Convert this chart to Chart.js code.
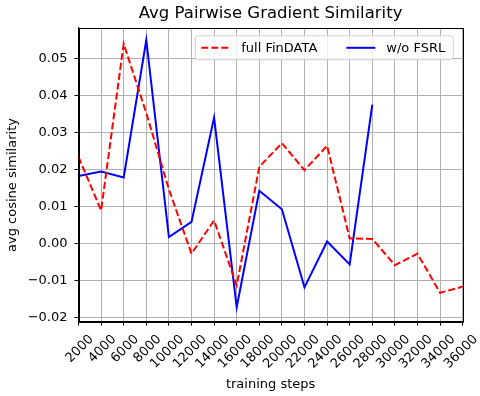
<!DOCTYPE html>
<html>
<head>
<meta charset="utf-8">
<script src="https://cdn.jsdelivr.net/npm/chart.js@4.4.1/dist/chart.umd.min.js"></script>
<style>
  html, body { margin: 0; padding: 0; background: #fff; }
  #wrap { width: 480px; height: 396px; }
</style>
</head>
<body>
<div id="wrap"><canvas id="chart" width="480" height="396"></canvas></div>
<script>
// training steps (x) and the two series
const steps = [2000, 4000, 6000, 8000, 10000, 12000, 14000, 16000, 18000,
  20000, 22000, 24000, 26000, 28000, 30000, 32000, 34000, 36000];
const fullFinData = [0.0235, 0.0090, 0.0541, 0.0353, 0.0147, -0.0027, 0.0063, -0.0113, 0.0208,
  0.0272, 0.0199, 0.0265, 0.0014, 0.0013, -0.0058, -0.0027, -0.0133, -0.0116];
const woFsrl = [0.0183, 0.0195, 0.0179, 0.0551, 0.0018, 0.0059, 0.0341, -0.0172, 0.0143,
  0.0093, -0.0118, 0.0006, -0.0056, 0.0376];
const yTicks = [-0.02, -0.01, 0.00, 0.01, 0.02, 0.03, 0.04, 0.05];
const yTitle = 'avg cosine similarity';

const FONT = "'DejaVu Sans', sans-serif";

const toPoints = (vals) => vals.map((v, i) => ({ x: steps[i], y: v }));

// full box around the plot like matplotlib
const frame = {
  id: 'frame',
  afterDatasetsDraw(chart) {
    const { ctx, chartArea: a } = chart;
    ctx.save();
    ctx.strokeStyle = '#000';
    ctx.lineWidth = 1;
    ctx.strokeRect(Math.round(a.left) + 0.5, Math.round(a.top) + 0.5,
      Math.round(a.right - a.left), Math.round(a.bottom - a.top));
    ctx.restore();
  }
};

// y axis title, drawn by hand so it sits where the original has it
const sideTitle = {
  id: 'sideTitle',
  afterDraw(chart) {
    const { ctx } = chart;
    ctx.save();
    ctx.translate(13, 185);
    ctx.rotate(-Math.PI / 2);
    ctx.font = '13px ' + FONT;
    ctx.fillStyle = '#000';
    ctx.textAlign = 'center';
    ctx.textBaseline = 'middle';
    ctx.fillText(yTitle, 0, 0);
    ctx.restore();
  }
};

// legend inside the axes, top right, two columns
const innerLegend = {
  id: 'innerLegend',
  afterDraw(chart) {
    const { ctx, chartArea: a } = chart;
    const sets = chart.data.datasets;
    ctx.save();
    ctx.font = '13px ' + FONT;
    const handle = 29, gap = 11, colGap = 29, padL = 6, padR = 8, h = 24;
    const widths = sets.map(d => ctx.measureText(d.label).width);
    let total = padL + padR;
    widths.forEach((w, i) => { total += handle + gap + w + (i < widths.length - 1 ? colGap : 0); });
    const right = a.right - 9.5, top = a.top + 8;
    const left = right - total;
    ctx.beginPath();
    ctx.roundRect(left, top, total, h, 3);
    ctx.fillStyle = 'rgba(255,255,255,0.8)';
    ctx.fill();
    ctx.strokeStyle = '#d0d0d0';
    ctx.lineWidth = 1;
    ctx.stroke();
    let x = left + padL;
    const cy = top + h / 2;
    sets.forEach((d, i) => {
      ctx.beginPath();
      ctx.setLineDash(d.borderDash || []);
      ctx.strokeStyle = d.borderColor;
      ctx.lineWidth = d.borderWidth;
      ctx.moveTo(x, cy);
      ctx.lineTo(x + handle, cy);
      ctx.stroke();
      ctx.setLineDash([]);
      x += handle + gap;
      ctx.fillStyle = '#000';
      ctx.textBaseline = 'middle';
      ctx.fillText(d.label, x, cy + 1);
      x += widths[i] + colGap;
    });
    ctx.restore();
  }
};

const ctx = document.getElementById('chart').getContext('2d');
const chart = new Chart(ctx, {
  type: 'line',
  data: {
    datasets: [
      {
        label: 'full FinDATA',
        data: toPoints(fullFinData),
        borderColor: '#ff0000',
        borderWidth: 2,
        borderDash: [7, 3],
        pointRadius: 0,
        tension: 0,
        fill: false
      },
      {
        label: 'w/o FSRL',
        data: toPoints(woFsrl),
        borderColor: '#0000ff',
        borderWidth: 2,
        pointRadius: 0,
        tension: 0,
        fill: false
      }
    ]
  },
  options: {
    responsive: false,
    animation: false,
    layout: { padding: { left: 0, right: 17.3, top: 0, bottom: 0 } },
    plugins: {
      legend: { display: false },
      tooltip: { enabled: false },
      title: {
        display: true,
        text: 'Avg Pairwise Gradient Similarity',
        fullSize: false,
        color: '#000',
        font: { family: FONT, size: 16.5, weight: 'normal' },
        padding: { top: 4, bottom: 4 }
      }
    },
    scales: {
      x: {
        type: 'linear',
        min: steps[0],
        max: steps[steps.length - 1],
        border: { color: '#000', width: 1 },
        grid: { color: '#b0b0b0', lineWidth: 1, tickColor: '#000', tickLength: 4 },
        afterFit: (scale) => {
          scale.height = 74.3;
          scale.paddingLeft = 0;
          scale.paddingRight = 0;
        },
        ticks: {
          stepSize: 2000,
          autoSkip: false,
          minRotation: 45,
          maxRotation: 45,
          labelOffset: 13,
          padding: 6,
          color: '#000',
          font: { family: FONT, size: 13 },
          callback: v => String(v)
        },
        title: {
          display: true,
          text: 'training steps',
          color: '#000',
          font: { family: FONT, size: 13 },
          padding: { top: 0, bottom: 4 }
        }
      },
      y: {
        min: -0.0211,
        max: 0.0584,
        border: { color: '#000', width: 1 },
        grid: { color: '#b0b0b0', lineWidth: 1, tickColor: '#000', tickLength: 4 },
        afterFit: (scale) => { scale.width = 78.5; },
        afterBuildTicks: (scale) => { scale.ticks = yTicks.map(v => ({ value: v })); },
        ticks: {
          color: '#000',
          padding: 7,
          font: { family: FONT, size: 13 },
          callback: v => Math.abs(v) < 1e-9 ? '0.00' : v.toFixed(2).replace('-', '\u2212')
        },
        title: { display: false }
      }
    }
  },
  plugins: [frame, sideTitle, innerLegend]
});
</script>
</body>
</html>
